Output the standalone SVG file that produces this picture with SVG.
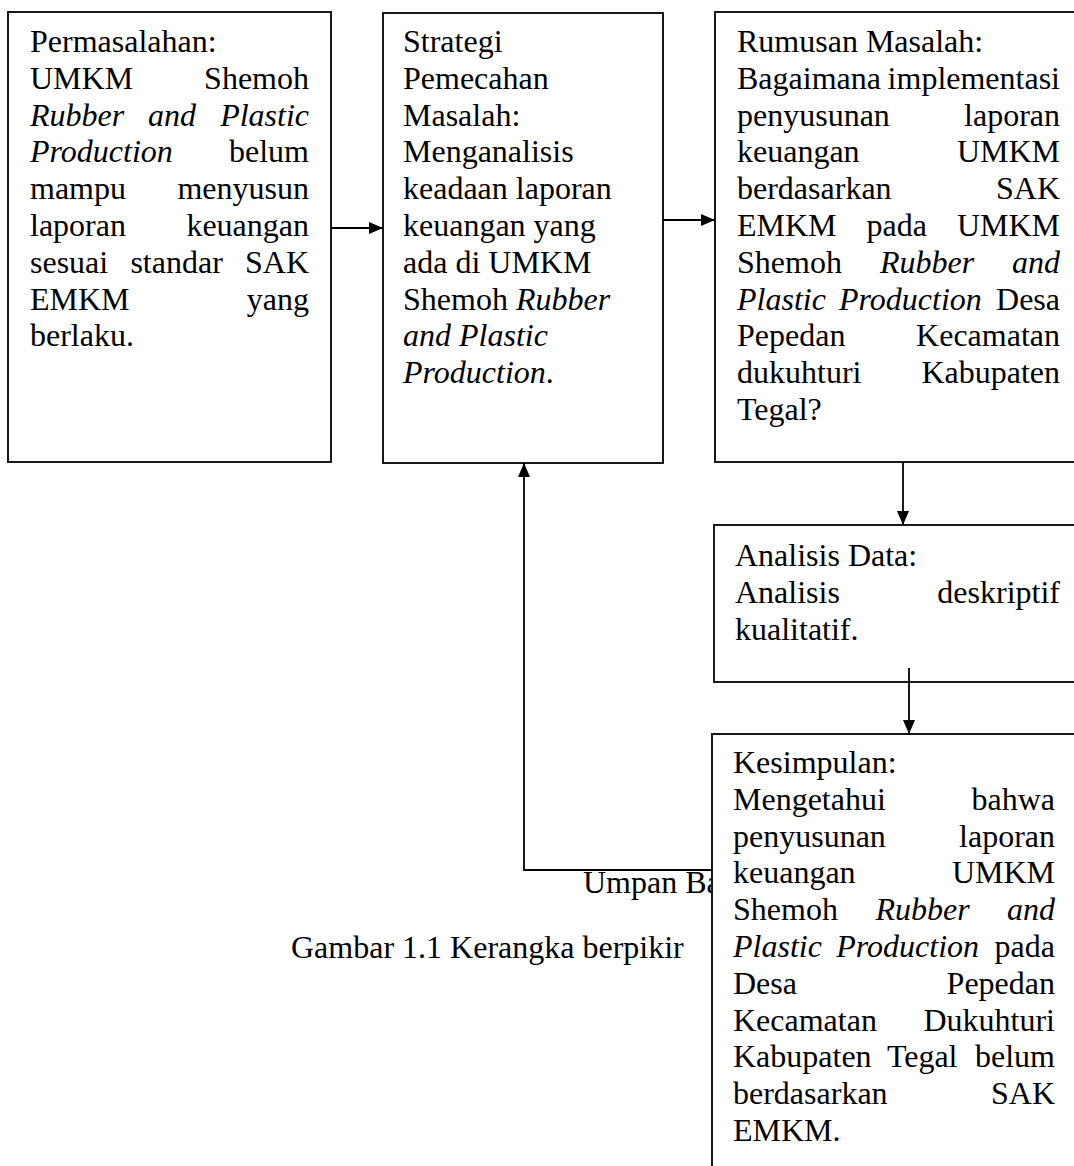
<svg xmlns="http://www.w3.org/2000/svg" width="1074" height="1166" viewBox="0 0 1074 1166">
<style>
.b{fill:#fff;stroke:#000;stroke-width:1.8}
.t{font-family:"Liberation Serif","Times New Roman",serif;font-size:32px;fill:#000}
.i{font-style:italic}
.e{text-anchor:end}
.c{stroke:#000;stroke-width:1.8;fill:none}
</style>
<defs>
<marker id="ah" markerUnits="userSpaceOnUse" markerWidth="14" markerHeight="12" refX="14" refY="6" orient="auto">
<path d="M0,0 L14,6 L0,12 Z" fill="#000"/>
</marker>
<clipPath id="lc"><rect x="0" y="0" width="711" height="1166"/></clipPath>
</defs>
<rect width="1074" height="1166" fill="#fff"/>

<g id="permasalahan">
<rect class="b" x="8" y="12" width="323" height="450"/>
<text class="t" x="30" y="52">Permasalahan:</text>
<text class="t" x="30" y="88.8">UMKM</text><text class="t e" x="309" y="88.8">Shemoh</text>
<text class="t i" x="30" y="125.6">Rubber</text><text class="t i" x="148" y="125.6">and</text><text class="t i e" x="309" y="125.6">Plastic</text>
<text class="t i" x="30" y="162.4">Production</text><text class="t e" x="309" y="162.4">belum</text>
<text class="t" x="30" y="199.2">mampu</text><text class="t e" x="309" y="199.2">menyusun</text>
<text class="t" x="30" y="236">laporan</text><text class="t e" x="309" y="236">keuangan</text>
<text class="t" x="30" y="272.8">sesuai</text><text class="t" x="130.4" y="272.8">standar</text><text class="t e" x="309" y="272.8">SAK</text>
<text class="t" x="30" y="309.6">EMKM</text><text class="t e" x="309" y="309.6">yang</text>
<text class="t" x="30" y="346.4">berlaku.</text>
</g>

<g id="strategi">
<rect class="b" x="383" y="13" width="280" height="450"/>
<text class="t" x="403" y="52">Strategi</text>
<text class="t" x="403" y="88.8">Pemecahan</text>
<text class="t" x="403" y="125.6">Masalah:</text>
<text class="t" x="403" y="162.4">Menganalisis</text>
<text class="t" x="403" y="199.2">keadaan laporan</text>
<text class="t" x="403" y="236">keuangan yang</text>
<text class="t" x="403" y="272.8">ada di UMKM</text>
<text class="t" x="403" y="309.6">Shemoh <tspan class="i">Rubber</tspan></text>
<text class="t i" x="403" y="346.4">and Plastic</text>
<text class="t" x="403" y="383.2"><tspan class="i">Production</tspan>.</text>
</g>

<g id="rumusan">
<rect class="b" x="715" y="12" width="380" height="450"/>
<text class="t" x="737" y="52">Rumusan Masalah:</text>
<text class="t" x="737" y="88.8">Bagaimana</text><text class="t e" x="1060" y="88.8">implementasi</text>
<text class="t" x="737" y="125.6">penyusunan</text><text class="t e" x="1060" y="125.6">laporan</text>
<text class="t" x="737" y="162.4">keuangan</text><text class="t e" x="1060" y="162.4">UMKM</text>
<text class="t" x="737" y="199.2">berdasarkan</text><text class="t e" x="1060" y="199.2">SAK</text>
<text class="t" x="737" y="236">EMKM</text><text class="t" x="866.5" y="236">pada</text><text class="t e" x="1060" y="236">UMKM</text>
<text class="t" x="737" y="272.8">Shemoh</text><text class="t i" x="879.9" y="272.8">Rubber</text><text class="t i e" x="1060" y="272.8">and</text>
<text class="t i" x="737" y="309.6">Plastic</text><text class="t i" x="839" y="309.6">Production</text><text class="t e" x="1060" y="309.6">Desa</text>
<text class="t" x="737" y="346.4">Pepedan</text><text class="t e" x="1060" y="346.4">Kecamatan</text>
<text class="t" x="737" y="383.2">dukuhturi</text><text class="t e" x="1060" y="383.2">Kabupaten</text>
<text class="t" x="737" y="420">Tegal?</text>
</g>

<g id="analisis">
<rect class="b" x="714" y="525" width="380" height="157"/>
<text class="t" x="735" y="566">Analisis Data:</text>
<text class="t" x="735" y="602.8">Analisis</text><text class="t e" x="1060" y="602.8">deskriptif</text>
<text class="t" x="735" y="639.6">kualitatif.</text>
</g>

<g id="kesimpulan">
<rect class="b" x="712" y="734" width="380" height="460"/>
<text class="t" x="733" y="773">Kesimpulan:</text>
<text class="t" x="733" y="809.8">Mengetahui</text><text class="t e" x="1055" y="809.8">bahwa</text>
<text class="t" x="733" y="846.6">penyusunan</text><text class="t e" x="1055" y="846.6">laporan</text>
<text class="t" x="733" y="883.4">keuangan</text><text class="t e" x="1055" y="883.4">UMKM</text>
<text class="t" x="733" y="920.2">Shemoh</text><text class="t i" x="875.4" y="920.2">Rubber</text><text class="t i e" x="1055" y="920.2">and</text>
<text class="t i" x="733" y="957">Plastic</text><text class="t i" x="836.3" y="957">Production</text><text class="t e" x="1055" y="957">pada</text>
<text class="t" x="733" y="993.8">Desa</text><text class="t e" x="1055" y="993.8">Pepedan</text>
<text class="t" x="733" y="1030.6">Kecamatan</text><text class="t e" x="1055" y="1030.6">Dukuhturi</text>
<text class="t" x="733" y="1067.4">Kabupaten</text><text class="t" x="886.9" y="1067.4">Tegal</text><text class="t e" x="1055" y="1067.4">belum</text>
<text class="t" x="733" y="1104.2">berdasarkan</text><text class="t e" x="1055" y="1104.2">SAK</text>
<text class="t" x="733" y="1141">EMKM.</text>
</g>

<g id="connectors">
<line class="c" x1="331" y1="228" x2="383" y2="228" marker-end="url(#ah)"/>
<line class="c" x1="663" y1="220" x2="715" y2="220" marker-end="url(#ah)"/>
<line class="c" x1="903" y1="462" x2="903" y2="525" marker-end="url(#ah)"/>
<line class="c" x1="909" y1="668" x2="909" y2="734" marker-end="url(#ah)"/>
<polyline class="c" points="712,870 524,870 524,463" marker-end="url(#ah)"/>
<text class="t" x="583" y="893" clip-path="url(#lc)">Umpan Ba</text>
</g>

<g id="caption">
<text class="t" x="291" y="958">Gambar 1.1 Kerangka berpikir</text>
</g>
</svg>
